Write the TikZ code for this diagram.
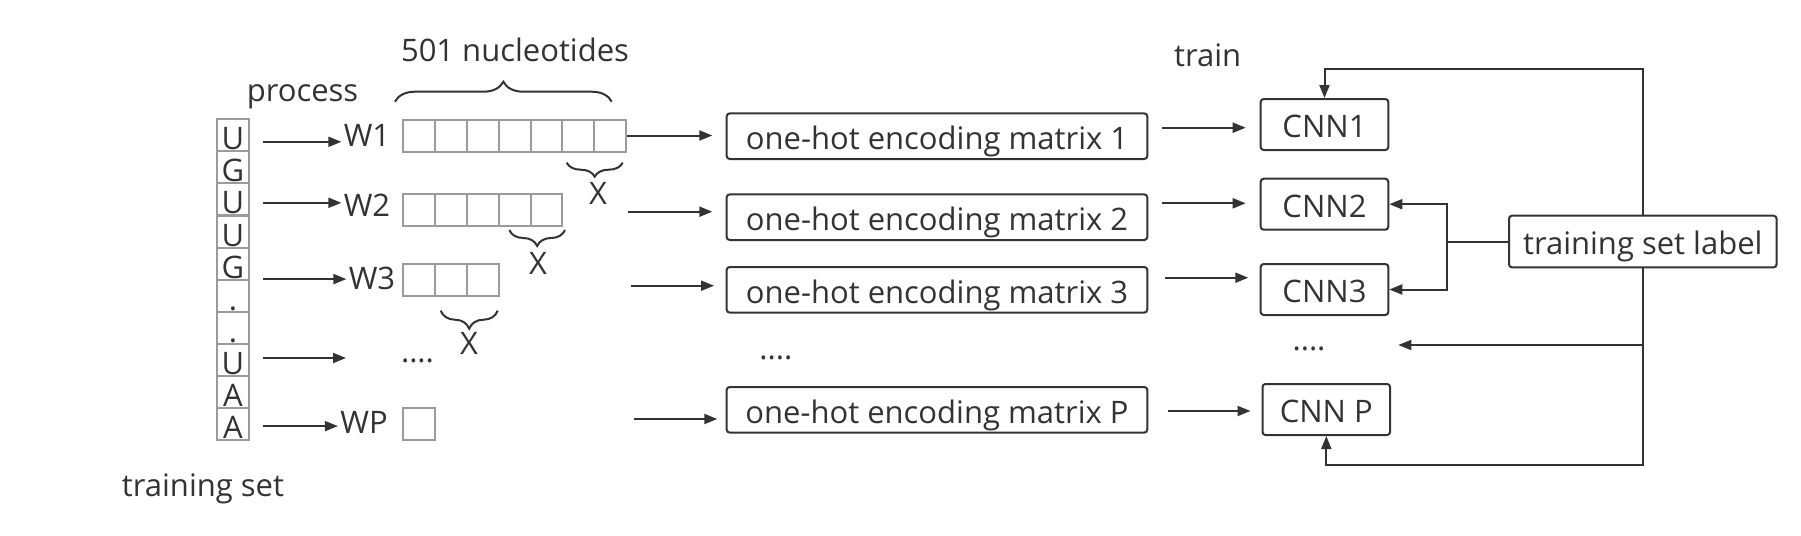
\documentclass[tikz,border=0pt]{standalone}
\usepackage{fontspec}
\setmainfont{Open Sans}
\usetikzlibrary{arrows.meta, positioning, decorations.pathreplacing}
\definecolor{inkgray}{RGB}{51,51,51}
\definecolor{cellgray}{RGB}{155,155,155}

\begin{document}
\begin{tikzpicture}[x=0.5pt, y=-0.5pt,
  font=\fontsize{15.5}{18}\selectfont, text=inkgray,
  every node/.style={text height=0.72em, text depth=0pt},
  lbl/.style={inner sep=1pt},
  seqcell/.style={draw=cellgray, line width=1pt, minimum width=16pt, minimum height=16pt, inner sep=0pt, text height=14.5pt},
  wcell/.style={draw=cellgray, line width=1pt, minimum width=15.9pt, minimum height=16pt, inner sep=0pt},
  ohbox/.style={draw=inkgray, line width=1pt, rounded corners=1.5pt, minimum width=210.3pt, minimum height=22.8pt, inner sep=0pt, text height=13.6pt},
  cnnbox/.style={draw=inkgray, line width=1pt, rounded corners=1.5pt, minimum width=63.8pt, minimum height=25.5pt, inner sep=0pt, text height=13.2pt},
  arr/.style={draw=inkgray, line width=1pt, -{Triangle[length=6.5pt,width=5pt]}},
  brc/.style={draw=inkgray, line width=1pt, decorate, decoration={brace, amplitude=#1}},
]
  \useasboundingbox (0,0) rectangle (1801,536);

  %% training sequence
  \foreach \c [count=\i] in {U,G,U,U,G,.,.,U,A,A}
    \node[seqcell] (s\i) at (233,{119.3+32.07*(\i-0.5)}) {\c};
  \node[lbl] (ts) at (203,488.8) {training set};
  \node[lbl] (pr) at (302.5,93.8) {process};

  %% windows
  \node[lbl] (w1) at (367,138.8) {W1};
  \node[lbl] (w2) at (367,208.8) {W2};
  \node[lbl] (w3) at (372,282.1) {W3};
  \node[lbl] (wp) at (364,426.1) {WP};
  \foreach \j in {1,...,7} \node[wcell] (ra\j) at ({403.3+31.8*(\j-0.5)},135.5) {};
  \foreach \j in {1,...,5} \node[wcell] (rb\j) at ({403.3+31.8*(\j-0.5)},210) {};
  \foreach \j in {1,...,3} \node[wcell] (rc\j) at ({403.3+31.8*(\j-0.5)},279.7) {};
  \node[wcell] (rp1) at (419.2,423.7) {};
  \node[lbl] (dl) at (417.5,355.5) {....};

  %% braces
  \draw[brc=10pt] (395,101.7) -- (611.7,101.7);
  \node[lbl] (nt) at (515,53.8) {501 nucleotides};
  \draw[brc=7pt] (622.7,162.7) -- (566.7,162.7);
  \node[lbl] (x1) at (598,196.8) {X};
  \draw[brc=8pt] (565,230) -- (509.3,230);
  \node[lbl] (x2) at (538,266.8) {X};
  \draw[brc=9pt] (497.7,310.7) -- (440.7,310.7);
  \node[lbl] (x3) at (469,346.8) {X};

  \draw[arr, shorten <=6.5pt] ([yshift=-1.5pt]w1.west -| s1.east) -- ([yshift=-1.5pt]w1.west);
  \draw[arr, shorten <=6.5pt] ([yshift=3pt]w2.west -| s3.east) -- ([yshift=3pt]w2.west);
  \draw[arr, shorten <=6.5pt] ([yshift=1.5pt]w3.west -| s5.east) -- ([yshift=1.5pt]w3.west);
  \coordinate (q1) at (346,358);
  \draw[arr, shorten <=6.5pt] (q1 -| s8.east) -- (q1);
  \draw[arr, shorten <=6.5pt] (wp.west -| s10.east) -- (wp.west);

  %% one-hot encoding
  \node[ohbox] (oh1) at (937,136.2) {one-hot encoding matrix 1};
  \node[ohbox] (oh2) at (937,217.2) {one-hot encoding matrix 2};
  \node[ohbox] (oh3) at (937,289.8) {one-hot encoding matrix 3};
  \node[lbl] (dm) at (775.8,352.1) {....};
  \node[ohbox] (ohp) at (937,409.8) {one-hot encoding matrix P};

  \draw[arr, shorten >=6.7pt] (ra7.east) -- (ra7.east -| oh1.west);
  \coordinate (e2) at (627.9,211.7);
  \draw[arr, shorten >=6.7pt] (e2) -- (e2 -| oh2.west);
  \coordinate (e3) at (631.4,285.7);
  \draw[arr, shorten >=5.8pt] (e3) -- (e3 -| oh3.west);
  \coordinate (ep) at (634.3,419);
  \draw[arr, shorten >=4.2pt] (ep) -- (ep -| ohp.west);

  %% CNNs
  \node[lbl] (tr) at (1207.7,58.8) {train};
  \node[cnnbox] (cnn1) at (1324.5,124.5) {CNN1};
  \node[cnnbox] (cnn2) at (1324.5,204.2) {CNN2};
  \node[cnnbox] (cnn3) at (1324.5,289.5) {CNN3};
  \node[lbl] (dr) at (1309,342.8) {....};
  \node[cnnbox] (cnnp) at (1326.3,409.5) {CNN P};
  \node[cnnbox, minimum width=133.8pt, minimum height=25.8pt] (lab) at (1642.8,241.5) {training set label};

  \coordinate (f1) at (1162.3,127.7);
  \draw[arr, shorten >=7pt] (f1) -- (f1 -| cnn1.west);
  \coordinate (f2) at (1162.3,203.3);
  \draw[arr, shorten >=7pt] (f2) -- (f2 -| cnn2.west);
  \coordinate (f3) at (1165,277.7);
  \draw[arr, shorten >=5.7pt] (f3) -- (f3 -| cnn3.west);
  \coordinate (fp) at (1168.3,411);
  \draw[arr, shorten >=5.5pt] (fp) -- (fp -| cnnp.west);

  %% labels fed back
  \coordinate (topc) at (1642.8,69);
  \coordinate (botc) at (1642.8,465);
  \draw[arr] (lab.north) -- (topc) -| (cnn1.north);
  \draw[arr] (lab.south) -- (botc) -| (cnnp.south);
  \draw[draw=inkgray, line width=1pt] (lab.west) -- ++(-60.7,0) coordinate (fk);
  \draw[arr] (fk) |- (cnn2.east);
  \draw[arr] (fk) |- (cnn3.east);
  \coordinate (dd) at (1642.8,345);
  \coordinate (de) at (1398.3,345);
  \draw[arr] (dd) -- (de);
\end{tikzpicture}
\end{document}
